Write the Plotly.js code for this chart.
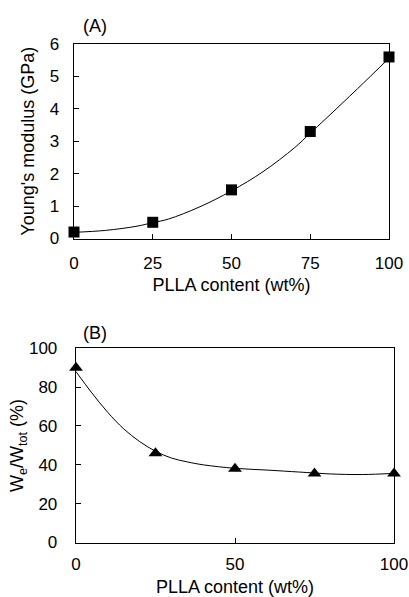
<!DOCTYPE html>
<html>
<head>
<meta charset="utf-8">
<script src="https://cdn.plot.ly/plotly-3.0.1.min.js"></script>
<style>html,body{margin:0;padding:0;background:#fff;}#chart{width:409px;height:597px;}</style>
</head>
<body>
<div id="chart"></div>
<script>
// Panel A data
const contentA = [0, 25, 50, 75, 100];
const modulusA = [0.2, 0.5, 1.5, 3.3, 5.6];
const fitXA = [0, 10, 20, 25, 30, 40, 50, 60, 70, 75, 80, 90, 100];
const fitYA = [0.19, 0.25, 0.38, 0.49, 0.6, 0.98, 1.47, 2.06, 2.8, 3.25, 3.7, 4.62, 5.56];
// Panel B data
const contentB = [0, 25, 50, 75, 100];
const ratioB = [90, 46, 38, 35.5, 35.5];
const fitXB = [0, 5, 10, 15, 20, 25, 30, 35, 40, 50, 60, 70, 75, 80, 90, 100];
const fitYB = [88, 77, 67, 58.5, 52, 47, 43.5, 41.5, 40, 38.2, 37.3, 36.3, 35.8, 35.3, 35, 35.6];
const ticksA = [0, 25, 50, 75, 100];
const ticksB = [0, 50, 100];

const FONT = 'Liberation Sans, Arial, sans-serif';
const W = 409, H = 597;
const px = v => v / W;
const py = v => 1 - v / H;

const traces = [
  {x: fitXA, y: fitYA, mode: 'lines', line: {color: '#000', width: 1, shape: 'spline'}, xaxis: 'x', yaxis: 'y', hoverinfo: 'skip'},
  {x: contentA, y: modulusA, mode: 'markers', marker: {symbol: 'square', size: 11, color: '#000'}, xaxis: 'x', yaxis: 'y', cliponaxis: false},
  {x: fitXB, y: fitYB, mode: 'lines', line: {color: '#000', width: 1, shape: 'spline'}, xaxis: 'x2', yaxis: 'y2', hoverinfo: 'skip'},
  {x: contentB, y: ratioB, mode: 'markers', marker: {symbol: 'triangle-up', size: 12, color: '#000'}, xaxis: 'x2', yaxis: 'y2', cliponaxis: false}
];

const axBase = {
  showgrid: false, zeroline: false, showline: true, linecolor: '#000', linewidth: 1.3,
  mirror: true, ticks: 'inside', ticklen: 5, tickwidth: 1, tickcolor: '#000',
  tickfont: {family: FONT, size: 17, color: '#000'}, fixedrange: true
};

const layout = {
  width: W, height: H,
  margin: {l: 0, r: 0, t: 0, b: 0},
  paper_bgcolor: '#fff', plot_bgcolor: '#fff',
  showlegend: false,
  font: {family: FONT, color: '#000'},
  xaxis: Object.assign({}, axBase, {
    domain: [px(74), px(389)], range: [0, 100], tickvals: ticksA, anchor: 'y',
    ticklabelstandoff: 9,
    title: {text: 'PLLA content (wt%)', font: {family: FONT, size: 18, color: '#000'}, standoff: 6}
  }),
  yaxis: Object.assign({}, axBase, {
    domain: [py(238.5), py(44)], range: [0, 6], dtick: 1, anchor: 'x',
    ticklabelstandoff: 10,
    title: {text: "Young's modulus (GPa)", font: {family: FONT, size: 18, color: '#000'}, standoff: 10}
  }),
  xaxis2: Object.assign({}, axBase, {
    domain: [px(76), px(394)], range: [0, 100], tickvals: ticksB, anchor: 'y2',
    ticklabelstandoff: 6,
    title: {text: 'PLLA content (wt%)', font: {family: FONT, size: 18, color: '#000'}, standoff: 14}
  }),
  yaxis2: Object.assign({}, axBase, {
    domain: [py(542.5), py(348.3)], range: [0, 100], dtick: 20, anchor: 'x2',
    ticklabelstandoff: 14,
    title: {text: 'W<sub>e</sub>/W<sub>tot</sub> (%)', font: {family: FONT, size: 18, color: '#000'}, standoff: 0}
  }),
  annotations: [
    {text: '(A)', x: px(95), y: py(26), xref: 'paper', yref: 'paper', showarrow: false, xanchor: 'center', yanchor: 'middle', font: {family: FONT, size: 18, color: '#000'}},
    {text: '(B)', x: px(95), y: py(333), xref: 'paper', yref: 'paper', showarrow: false, xanchor: 'center', yanchor: 'middle', font: {family: FONT, size: 18, color: '#000'}}
  ]
};

Plotly.newPlot('chart', traces, layout, {displayModeBar: false, staticPlot: true});
</script>
</body>
</html>
